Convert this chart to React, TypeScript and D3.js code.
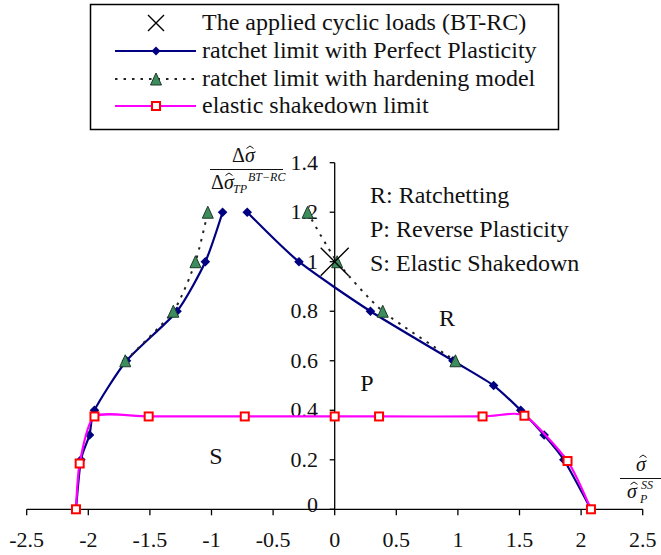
import React from "react";
import * as d3 from "d3";

// Normalised load coordinates: x = σ̂ / σ̂P^SS, y = Δσ̂ / Δσ̂TP^BT-RC
const ppLeftX = [-2.1, -2.06, -1.99, -1.95, -1.69, -1.28, -1.05, -0.91];
const ppLeftY = [0, 0.2, 0.3, 0.4, 0.6, 0.8, 1.0, 1.2];
const ppRightX = [-0.71, -0.29, 0.29, 0.96, 1.29, 1.51, 1.7, 1.86, 2.08];
const ppRightY = [1.2, 1.0, 0.8, 0.6, 0.5, 0.4, 0.3, 0.2, 0];

const hardLeftX = [-1.7, -1.31, -1.13, -1.03];
const hardLeftY = [0.6, 0.8, 1.0, 1.2];
const hardRightX = [-0.22, 0.02, 0.39, 0.98];
const hardRightY = [1.2, 1.0, 0.8, 0.6];

const esdX = [-2.1, -2.07, -1.95, -1.51, -0.73, 0, 0.36, 1.2, 1.54, 1.89, 2.08];
const esdY = [0, 0.185, 0.375, 0.375, 0.375, 0.375, 0.375, 0.375, 0.378, 0.195, 0];

const loadX = [0];
const loadY = [1.0];

const xTicks = [-2.5, -2, -1.5, -1, -0.5, 0, 0.5, 1, 1.5, 2, 2.5];
const xTickLabels = ["-2.5", "-2", "-1.5", "-1", "-0.5", "0", "0.5", "1", "1.5", "2", "2.5"];
const yTicks = [0, 0.2, 0.4, 0.6, 0.8, 1.0, 1.2, 1.4];
const yTickLabels = ["0", "0.2", "0.4", "0.6", "0.8", "1", "1.2", "1.4"];

const legendLabels = [
  "The applied cyclic loads (BT-RC)",
  "ratchet limit with Perfect Plasticity",
  "ratchet limit with hardening model",
  "elastic shakedown limit",
];

const regionNotes = ["R: Ratchetting", "P: Reverse Plasticity", "S: Elastic Shakedown"];

const NAVY = "#000080";
const MAGENTA = "#ff00ff";
const RED = "#ff0000";
const GREEN = "#3d8c5c";
const GREEN_EDGE = "#1c3b28";
const FONT = "Liberation Serif";

type P = [number, number];
const zip = (xs: number[], ys: number[]): P[] => xs.map((v, i) => [v, ys[i]]);

const diamondPath = (cx: number, cy: number, r: number) =>
  `M${cx},${cy - r}L${cx + r},${cy}L${cx},${cy + r}L${cx - r},${cy}Z`;
const trianglePath = (cx: number, cy: number, w: number, h: number) =>
  `M${cx},${cy - h / 2}L${cx + w / 2},${cy + h / 2}L${cx - w / 2},${cy + h / 2}Z`;
const crossPath = (cx: number, cy: number, r: number) =>
  `M${cx - r},${cy - r}L${cx + r},${cy + r}M${cx + r},${cy - r}L${cx - r},${cy + r}`;

// small circumflex drawn over a glyph
const Hat = ({ cx, cy, w }: { cx: number; cy: number; w: number }) => (
  <path
    d={`M${cx - w / 2},${cy + w * 0.35}L${cx},${cy}L${cx + w / 2},${cy + w * 0.35}`}
    fill="none"
    stroke="#111"
    strokeWidth={1}
  />
);

export default function App() {
  const width = 661;
  const height = 555;
  const x = d3.scaleLinear().domain([-2.5, 2.5]).range([26.7, 642.7]);
  const y = d3.scaleLinear().domain([0, 1.4]).range([509.3, 162.7]);

  const smooth = d3
    .line<P>()
    .x((d) => x(d[0]))
    .y((d) => y(d[1]))
    .curve(d3.curveCardinal.tension(0.35));

  const ppL = zip(ppLeftX, ppLeftY);
  const ppR = zip(ppRightX, ppRightY);
  const hdL = zip(hardLeftX, hardLeftY);
  const hdR = zip(hardRightX, hardRightY);
  const esd = zip(esdX, esdY);
  const loads = zip(loadX, loadY);

  const x0 = x(0);
  const yBase = y(0);

  // legend layout
  const lgRows = [23, 51, 79, 106];
  const lgLineX0 = 115;
  const lgLineX1 = 196;
  const lgMarkX = 156;
  const lgTextX = 202;

  return (
    <svg width={width} height={height} style={{ position: "absolute", left: 0, top: 0, background: "#fff" }}>
      <style>{`text { font-family: "Liberation Serif", "DejaVu Serif", serif; }`}</style>
      <rect x={0} y={0} width={width} height={height} fill="#fff" />

      {/* legend */}
      <rect x={90.5} y={4.5} width={468} height={125} fill="#fff" stroke="#000" strokeWidth={1.5} />
      <path d={crossPath(lgMarkX, lgRows[0], 8)} stroke="#000" strokeWidth={1.4} fill="none" />
      <line x1={lgLineX0} x2={lgLineX1} y1={lgRows[1]} y2={lgRows[1]} stroke={NAVY} strokeWidth={2.2} />
      <path d={diamondPath(lgMarkX, lgRows[1], 4.5)} fill={NAVY} />
      <line
        x1={lgLineX0}
        x2={lgLineX1}
        y1={lgRows[2]}
        y2={lgRows[2]}
        stroke="#222"
        strokeWidth={2}
        strokeDasharray="2.5,6"
      />
      <path d={trianglePath(lgMarkX, lgRows[2], 11, 12)} fill={GREEN} stroke={GREEN_EDGE} strokeWidth={1} />
      <line x1={lgLineX0} x2={lgLineX1} y1={lgRows[3]} y2={lgRows[3]} stroke={MAGENTA} strokeWidth={2.2} />
      <rect x={lgMarkX - 4} y={lgRows[3] - 4} width={8} height={8} fill="#fff" stroke={RED} strokeWidth={2} />
      {legendLabels.map((t, i) => (
        <text key={t} x={lgTextX} y={lgRows[i] + 7} fontSize={24} fill="#111" fontFamily={FONT}>
          {t}
        </text>
      ))}

      {/* axes */}
      <line x1={x(-2.5)} x2={x(2.5)} y1={yBase} y2={yBase} stroke="#000" strokeWidth={1.3} />
      {xTicks.map((t, i) => (
        <g key={`xt${i}`}>
          <line x1={x(t)} x2={x(t)} y1={yBase} y2={yBase + 6} stroke="#000" strokeWidth={1.3} />
          <text x={x(t)} y={547} textAnchor="middle" fontSize={22} fill="#111" fontFamily={FONT}>
            {xTickLabels[i]}
          </text>
        </g>
      ))}
      <line x1={x0} x2={x0} y1={y(1.4)} y2={yBase} stroke="#000" strokeWidth={1.3} />
      {yTicks.map((t, i) => (
        <g key={`yt${i}`}>
          <line x1={x0 - 5} x2={x0} y1={y(t)} y2={y(t)} stroke="#000" strokeWidth={1.3} />
          <text
            x={318}
            y={y(t) + (t === 0 ? 3 : 7)}
            textAnchor="end"
            fontSize={22}
            fill="#111"
            fontFamily={FONT}
          >
            {yTickLabels[i]}
          </text>
        </g>
      ))}

      {/* y axis title */}
      <g fill="#111">
        <text x={232} y={162} fontSize={20} fontFamily={FONT}>
          Δ<tspan fontStyle="italic">σ</tspan>
        </text>
        <Hat cx={250} cy={146} w={7} />
        <line x1={210} x2={283} y1={169.5} y2={169.5} stroke="#111" strokeWidth={1} />
        <text x={211} y={189} fontSize={20} fontFamily={FONT}>
          Δ<tspan fontStyle="italic">σ</tspan>
        </text>
        <Hat cx={229} cy={173} w={7} />
        <text x={233} y={193} fontSize={12} fontStyle="italic" fontFamily={FONT}>
          TP
        </text>
        <text x={248} y={181} fontSize={12} fontStyle="italic" fontFamily={FONT}>
          BT−RC
        </text>
      </g>

      {/* x axis title */}
      <g fill="#111">
        <text x={636} y={471} fontSize={20} fontStyle="italic" fontFamily={FONT}>
          σ
        </text>
        <Hat cx={643} cy={455} w={7} />
        <line x1={620} x2={661} y1={478.5} y2={478.5} stroke="#111" strokeWidth={1} />
        <text x={627} y={498} fontSize={20} fontStyle="italic" fontFamily={FONT}>
          σ
        </text>
        <Hat cx={634} cy={482} w={7} />
        <text x={640} y={503} fontSize={12} fontStyle="italic" fontFamily={FONT}>
          P
        </text>
        <text x={641} y={489} fontSize={12} fontStyle="italic" fontFamily={FONT}>
          SS
        </text>
      </g>

      {/* region notes */}
      {regionNotes.map((t, i) => (
        <text key={t} x={370} y={203 + i * 34} fontSize={24} fill="#111" fontFamily={FONT}>
          {t}
        </text>
      ))}
      <text x={447} y={326} textAnchor="middle" fontSize={24} fill="#111" fontFamily={FONT}>
        R
      </text>
      <text x={367} y={391} textAnchor="middle" fontSize={24} fill="#111" fontFamily={FONT}>
        P
      </text>
      <text x={216} y={464} textAnchor="middle" fontSize={24} fill="#111" fontFamily={FONT}>
        S
      </text>

      {/* perfect plasticity ratchet limit */}
      <path d={smooth(ppL) || ""} fill="none" stroke={NAVY} strokeWidth={2.2} />
      <path d={smooth(ppR) || ""} fill="none" stroke={NAVY} strokeWidth={2.2} />
      {[...ppL, ...ppR].map((d, i) => (
        <path key={`pp${i}`} d={diamondPath(x(d[0]), y(d[1]), 4.8)} fill={NAVY} />
      ))}

      {/* hardening model ratchet limit */}
      <path d={smooth(hdL) || ""} fill="none" stroke="#222" strokeWidth={2} strokeDasharray="2.5,6" />
      <path d={smooth(hdR) || ""} fill="none" stroke="#222" strokeWidth={2} strokeDasharray="2.5,6" />
      {[...hdL, ...hdR].map((d, i) => (
        <path
          key={`hd${i}`}
          d={trianglePath(x(d[0]), y(d[1]), 11, 12)}
          fill={GREEN}
          stroke={GREEN_EDGE}
          strokeWidth={1}
        />
      ))}

      {/* elastic shakedown limit */}
      <path d={smooth(esd) || ""} fill="none" stroke={MAGENTA} strokeWidth={2.2} />
      {esd.map((d, i) => (
        <rect
          key={`es${i}`}
          x={x(d[0]) - 4}
          y={y(d[1]) - 4}
          width={8}
          height={8}
          fill="#fff"
          stroke={RED}
          strokeWidth={2}
        />
      ))}

      {/* applied cyclic load */}
      {loads.map((d, i) => (
        <path key={`ld${i}`} d={crossPath(x(d[0]), y(d[1]), 14)} stroke="#000" strokeWidth={1.4} fill="none" />
      ))}
    </svg>
  );
}
